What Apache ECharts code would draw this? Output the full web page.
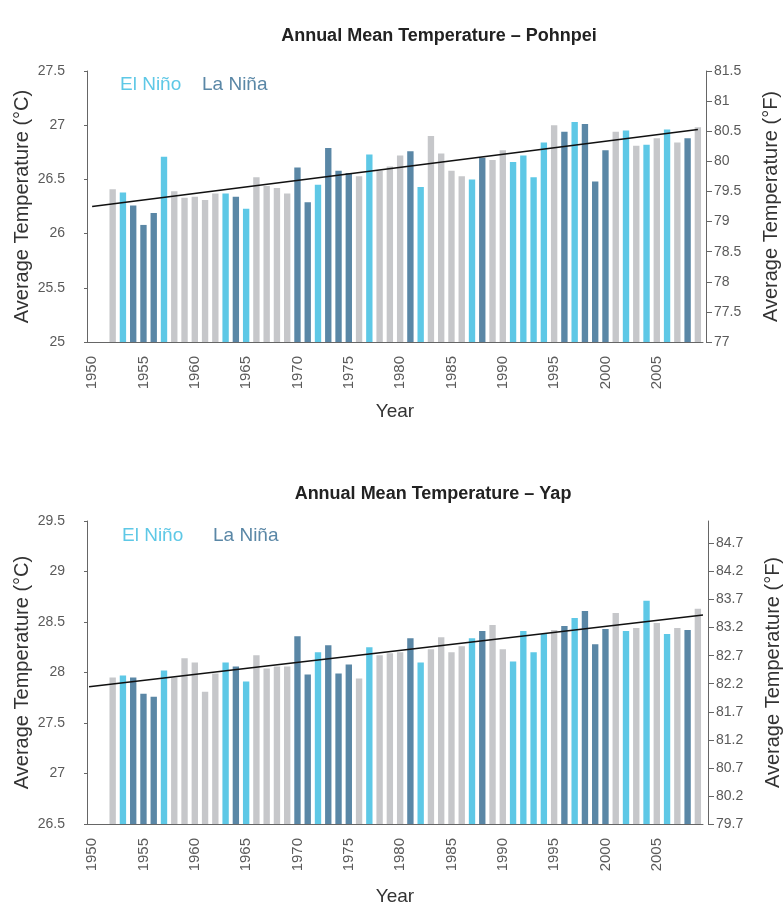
<!DOCTYPE html>
<html><head><meta charset="utf-8">
<script src="https://cdn.jsdelivr.net/npm/echarts@6/dist/echarts.min.js"></script>
<style>html,body{margin:0;padding:0;background:#fff}#c{width:783px;height:907px}</style>
</head><body><div id="c"></div>
<script>
const years = [];
for (let y = 1950; y <= 2009; y++) years.push(String(y));

// phase per year from 1952: N = neutral, E = El Niño, L = La Niña
const phaseYears = ['1952','1953','1954','1955','1956','1957','1958','1959','1960','1961','1962','1963','1964','1965','1966','1967','1968','1969','1970','1971','1972','1973','1974','1975','1976','1977','1978','1979','1980','1981','1982','1983','1984','1985','1986','1987','1988','1989','1990','1991','1992','1993','1994','1995','1996','1997','1998','1999','2000','2001','2002','2003','2004','2005','2006','2007','2008','2009'];
const phase = ['N','E','L','L','L','E','N','N','N','N','N','E','L','E','N','N','N','N','L','L','E','L','L','L','N','E','N','N','N','L','E','N','N','N','N','E','L','N','N','E','E','E','E','N','L','E','L','L','L','N','E','N','E','N','E','N','L','N'];

const pohnpeiC = [26.41,26.38,26.26,26.08,26.19,26.71,26.39,26.33,26.34,26.31,26.37,26.37,26.34,26.23,26.52,26.44,26.42,26.37,26.61,26.29,26.45,26.79,26.58,26.56,26.53,26.73,26.58,26.62,26.72,26.76,26.43,26.90,26.74,26.58,26.53,26.50,26.70,26.68,26.77,26.66,26.72,26.52,26.84,27.00,26.94,27.03,27.01,26.48,26.77,26.94,26.95,26.81,26.82,26.88,26.96,26.84,26.88,26.98];
const yapC = [27.95,27.97,27.95,27.79,27.76,28.02,27.95,28.14,28.10,27.81,27.99,28.10,28.06,27.91,28.17,28.04,28.06,28.06,28.36,27.98,28.20,28.27,27.99,28.08,27.94,28.25,28.17,28.19,28.20,28.34,28.10,28.23,28.35,28.20,28.26,28.34,28.41,28.47,28.23,28.11,28.41,28.20,28.38,28.42,28.46,28.54,28.61,28.28,28.43,28.59,28.41,28.44,28.71,28.49,28.38,28.44,28.42,28.63];

const pohnpeiTrend = [[1950, 26.25], [2009, 26.96]];
const yapTrend = [[1949.7, 27.86], [2009.5, 28.57]];

const pohnpeiCTicks = [25, 25.5, 26, 26.5, 27, 27.5];
const pohnpeiFTicks = [77, 77.5, 78, 78.5, 79, 79.5, 80, 80.5, 81, 81.5];
const yapCTicks = [26.5, 27, 27.5, 28, 28.5, 29, 29.5];
const yapFTicks = [79.7, 80.2, 80.7, 81.2, 81.7, 82.2, 82.7, 83.2, 83.7, 84.2, 84.7];

const colors = { N: '#c6c7ca', E: '#5ec8e6', L: '#5a87a6' };
function barData(vals) {
  const out = years.map(() => null);
  phaseYears.forEach((y, i) => {
    const idx = years.indexOf(y);
    out[idx] = { value: vals[i], itemStyle: { color: colors[phase[i]] } };
  });
  return out;
}

const FONT = 'Liberation Sans, Arial, Helvetica, sans-serif';
const lblColor = '#5a5a5a';
const lineColor = '#666';

function catAxis(gi, gap) {
  return {
    type: 'category', gridIndex: gi, data: years,
    name: 'Year', nameLocation: 'middle', nameGap: gap, nameMoveOverlap: false,
    nameTextStyle: { fontFamily: FONT, fontSize: 19, color: '#333' },
    axisLine: { lineStyle: { color: lineColor, width: 1 } },
    axisTick: { interval: 0, length: 3, lineStyle: { color: lineColor } },
    axisLabel: { rotate: 90, interval: (i, v) => Number(v) % 5 === 0, fontFamily: FONT, fontSize: 15, color: lblColor, margin: 14 },
    splitLine: { show: false }
  };
}
function valX(gi) {
  return { type: 'value', gridIndex: gi, min: 1949.5, max: 2009.5, show: false };
}
function yAx(gi, min, max, ticks, pos, name, off) {
  const left = pos === 'left';
  return {
    type: 'value', gridIndex: gi, min: min, max: max, position: pos, offset: off || 0,
    name: name, nameLocation: 'middle', nameRotate: 90, nameGap: left ? 55 : 55, nameMoveOverlap: false,
    nameTextStyle: { fontFamily: FONT, fontSize: 20, color: '#333' },
    axisLine: { show: true, lineStyle: { color: lineColor } },
    axisTick: { show: true, length: left ? 3 : 6, customValues: ticks, lineStyle: { color: lineColor } },
    axisLabel: { customValues: ticks, fontFamily: FONT, fontSize: 14, color: lblColor, margin: left ? 22 : 8 },
    splitLine: { show: false }
  };
}

const chart = echarts.init(document.getElementById('c'), null, { renderer: 'canvas' });
chart.setOption({
  backgroundColor: '#fff',
  animation: false,
  title: [
    { text: 'Annual Mean Temperature – Pohnpei', left: 434, top: 22, textAlign: 'center', textStyle: { fontFamily: FONT, fontSize: 18, fontWeight: 'bold', color: '#222' } },
    { text: 'Annual Mean Temperature – Yap', left: 428, top: 480, textAlign: 'center', textStyle: { fontFamily: FONT, fontSize: 18, fontWeight: 'bold', color: '#222' } },
    { text: 'El Niño', left: 115, top: 70, textStyle: { fontFamily: FONT, fontSize: 19, fontWeight: 'normal', color: '#5ec8e6' } },
    { text: 'La Niña', left: 197, top: 70, textStyle: { fontFamily: FONT, fontSize: 19, fontWeight: 'normal', color: '#5a87a6' } },
    { text: 'El Niño', left: 117, top: 521, textStyle: { fontFamily: FONT, fontSize: 19, fontWeight: 'normal', color: '#5ec8e6' } },
    { text: 'La Niña', left: 208, top: 521, textStyle: { fontFamily: FONT, fontSize: 19, fontWeight: 'normal', color: '#5a87a6' } }
  ],
  grid: [
    { left: 87, top: 71, width: 616, height: 271, outerBoundsMode: 'none', containLabel: false },
    { left: 87, top: 521, width: 616, height: 303, outerBoundsMode: 'none', containLabel: false }
  ],
  xAxis: [catAxis(0, 60), valX(0), catAxis(1, 63), valX(1)],
  yAxis: [
    yAx(0, 25, 27.5, pohnpeiCTicks, 'left', 'Average Temperature (°C)'),
    yAx(0, 77, 81.5, pohnpeiFTicks, 'right', 'Average Temperature (°F)', 3),
    yAx(1, 26.5, 29.5, yapCTicks, 'left', 'Average Temperature (°C)'),
    yAx(1, 79.7, 85.1, yapFTicks, 'right', 'Average Temperature (°F)', 5)
  ],
  series: [
    { type: 'bar', xAxisIndex: 0, yAxisIndex: 0, data: barData(pohnpeiC), barCategoryGap: '38%' },
    { type: 'line', xAxisIndex: 1, yAxisIndex: 0, data: pohnpeiTrend, symbol: 'none', lineStyle: { color: '#111', width: 1.5 }, z: 5 },
    { type: 'bar', xAxisIndex: 2, yAxisIndex: 2, data: barData(yapC), barCategoryGap: '38%' },
    { type: 'line', xAxisIndex: 3, yAxisIndex: 2, data: yapTrend, symbol: 'none', lineStyle: { color: '#111', width: 1.5 }, z: 5 }
  ]
});
</script>
</body></html>
